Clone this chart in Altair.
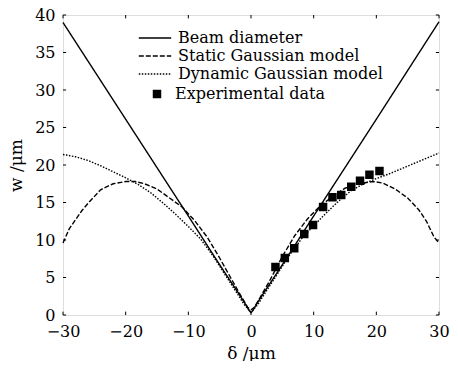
import altair as alt
import pandas as pd

FONT = "DejaVu Serif"

series_order = ["Beam diameter", "Static Gaussian model", "Dynamic Gaussian model"]

beam_x = [-30, -20, -10, -5, -2, -1, -0.3, 0, 0.3, 1, 2, 5, 10, 20, 30]
beam_y = [39.0, 26.1, 13.2, 6.7, 2.9, 1.6, 0.6, 0.3, 0.6, 1.6, 2.9, 6.7, 13.2, 26.1, 39.1]

static_x = [-30, -29, -28, -27, -26, -24, -22, -20, -18.5, -17, -15, -13, -11, -9, -7, -5, -3,
            -1.5, -0.5, 0, 0.5, 1.5, 3, 5, 7, 9, 11, 13, 15, 17, 19.5, 21, 23, 25, 26.8, 28, 29.2, 30]
static_y = [9.6, 11.5, 12.7, 13.9, 14.9, 16.7, 17.5, 17.8, 17.8, 17.5, 16.8, 15.6, 14.4, 12.6, 10.4,
            7.6, 4.6, 2.4, 1.0, 0.7, 1.0, 2.4, 4.6, 7.8, 10.6, 12.8, 14.5, 15.8, 16.9, 17.5, 17.8,
            17.6, 16.8, 15.6, 14.0, 12.5, 10.4, 9.6]

dyn_x = [-30, -28, -26, -24, -22, -20, -18, -16, -14, -12, -10, -8, -6, -4, -2, -1, 0,
         1, 2, 4, 6, 8, 10, 12, 14, 16, 18, 20, 22, 24, 26, 28, 30]
dyn_y = [21.4, 21.1, 20.6, 19.9, 19.1, 18.3, 17.4, 16.3, 14.9, 13.4, 11.8, 10.1, 7.8, 5.2, 2.6, 1.3, 0.4,
         1.3, 2.6, 5.2, 7.8, 10.1, 11.9, 13.6, 15.2, 16.6, 17.5, 18.2, 18.8, 19.5, 20.2, 20.9, 21.6]

exp_x = [3.9, 5.4, 6.9, 8.5, 9.9, 11.5, 13.0, 14.4, 16.0, 17.4, 18.9, 20.5]
exp_y = [6.4, 7.6, 8.9, 10.8, 12.0, 14.4, 15.7, 16.0, 17.1, 17.9, 18.7, 19.2]
exp_label = "Experimental data"

x_ticks = [-30, -20, -10, 0, 10, 20, 30]
y_ticks = [0, 5, 10, 15, 20, 25, 30, 35, 40]

lines = pd.concat([
    pd.DataFrame({"x": beam_x, "y": beam_y, "series": series_order[0]}),
    pd.DataFrame({"x": static_x, "y": static_y, "series": series_order[1]}),
    pd.DataFrame({"x": dyn_x, "y": dyn_y, "series": series_order[2]}),
], ignore_index=True)
points = pd.DataFrame({"x": exp_x, "y": exp_y, "label": exp_label})

x_dom = [-30, 30]
y_dom = [0, 40]
x_scale = alt.Scale(domain=x_dom, nice=False, zero=False)
y_scale = alt.Scale(domain=y_dom, nice=False, zero=False)

x_axis = alt.Axis(title="δ /μm", values=x_ticks, ticks=False, domain=False, grid=False,
                  labelFont=FONT, labelFontSize=16, labelPadding=8, labelColor="black",
                  titleFont=FONT, titleFontSize=17, titleFontWeight="normal", titlePadding=6,
                  titleColor="black", labelFlush=False, labelOverlap=False)
y_axis = alt.Axis(title="w /μm", values=y_ticks, ticks=False, domain=False, grid=False,
                  labelFont=FONT, labelFontSize=16, labelPadding=8, labelColor="black",
                  titleFont=FONT, titleFontSize=17, titleFontWeight="normal", titlePadding=9,
                  titleColor="black", labelFlush=False, labelOverlap=False)

line_layer = alt.Chart(lines).mark_line(color="black", strokeWidth=1.4).encode(
    x=alt.X("x:Q", scale=x_scale, axis=x_axis),
    y=alt.Y("y:Q", scale=y_scale, axis=y_axis),
    strokeDash=alt.StrokeDash(
        "series:N",
        scale=alt.Scale(domain=series_order, range=[[1, 0], [5, 2], [1.5, 1.5]]),
        legend=alt.Legend(title=None, orient="none", legendX=82, legendY=13,
                          symbolType="M-1.8,0H1.8", symbolSize=324, symbolStrokeWidth=1.4,
                          symbolStrokeColor="black", symbolFillColor="transparent",
                          labelFont=FONT, labelFontSize=16,
                          labelColor="black", labelOffset=13, rowPadding=0, padding=0,
                          labelLimit=400),
    ),
    detail="series:N",
)

point_layer = alt.Chart(points).mark_point(filled=True, color="black", opacity=1, size=72).encode(
    x=alt.X("x:Q", scale=x_scale, axis=x_axis),
    y=alt.Y("y:Q", scale=y_scale, axis=y_axis),
    shape=alt.Shape("label:N", scale=alt.Scale(domain=[exp_label], range=["square"]),
                    legend=alt.Legend(title=None, orient="none", legendX=86, legendY=71,
                                      symbolSize=72, symbolFillColor="black", symbolStrokeColor="black",
                                      symbolStrokeWidth=0, labelFont=FONT, labelFontSize=16,
                                      labelColor="black", labelOffset=10, padding=0, labelLimit=400)),
)

# inward ticks
tick_len_x = 0.45
tick_len_y = 0.5
xt = pd.DataFrame({"x": x_ticks * 2,
                   "y0": [y_dom[0]] * len(x_ticks) + [y_dom[1] - tick_len_x] * len(x_ticks),
                   "y1": [y_dom[0] + tick_len_x] * len(x_ticks) + [y_dom[1]] * len(x_ticks)})
yt = pd.DataFrame({"y": y_ticks * 2,
                   "x0": [x_dom[0]] * len(y_ticks) + [x_dom[1] - tick_len_y] * len(y_ticks),
                   "x1": [x_dom[0] + tick_len_y] * len(y_ticks) + [x_dom[1]] * len(y_ticks)})
xtick_layer = alt.Chart(xt).mark_rule(color="black", strokeWidth=1).encode(
    x=alt.X("x:Q", scale=x_scale, axis=x_axis), y=alt.Y("y0:Q", scale=y_scale, axis=y_axis), y2="y1:Q")
ytick_layer = alt.Chart(yt).mark_rule(color="black", strokeWidth=1).encode(
    y=alt.Y("y:Q", scale=y_scale, axis=y_axis), x=alt.X("x0:Q", scale=x_scale, axis=x_axis), x2="x1:Q")

chart = alt.layer(line_layer, point_layer, xtick_layer, ytick_layer).properties(
    width=376, height=300,
    autosize=alt.AutoSizeParams(type="none"),
    padding={"left": 55, "top": 7, "right": 11, "bottom": 46},
).configure_view(
    stroke="black", strokeWidth=1, strokeDash=[2, 1]
).configure(background="white")

chart.save("out.html", embed_options={"renderer": "svg", "actions": False})
